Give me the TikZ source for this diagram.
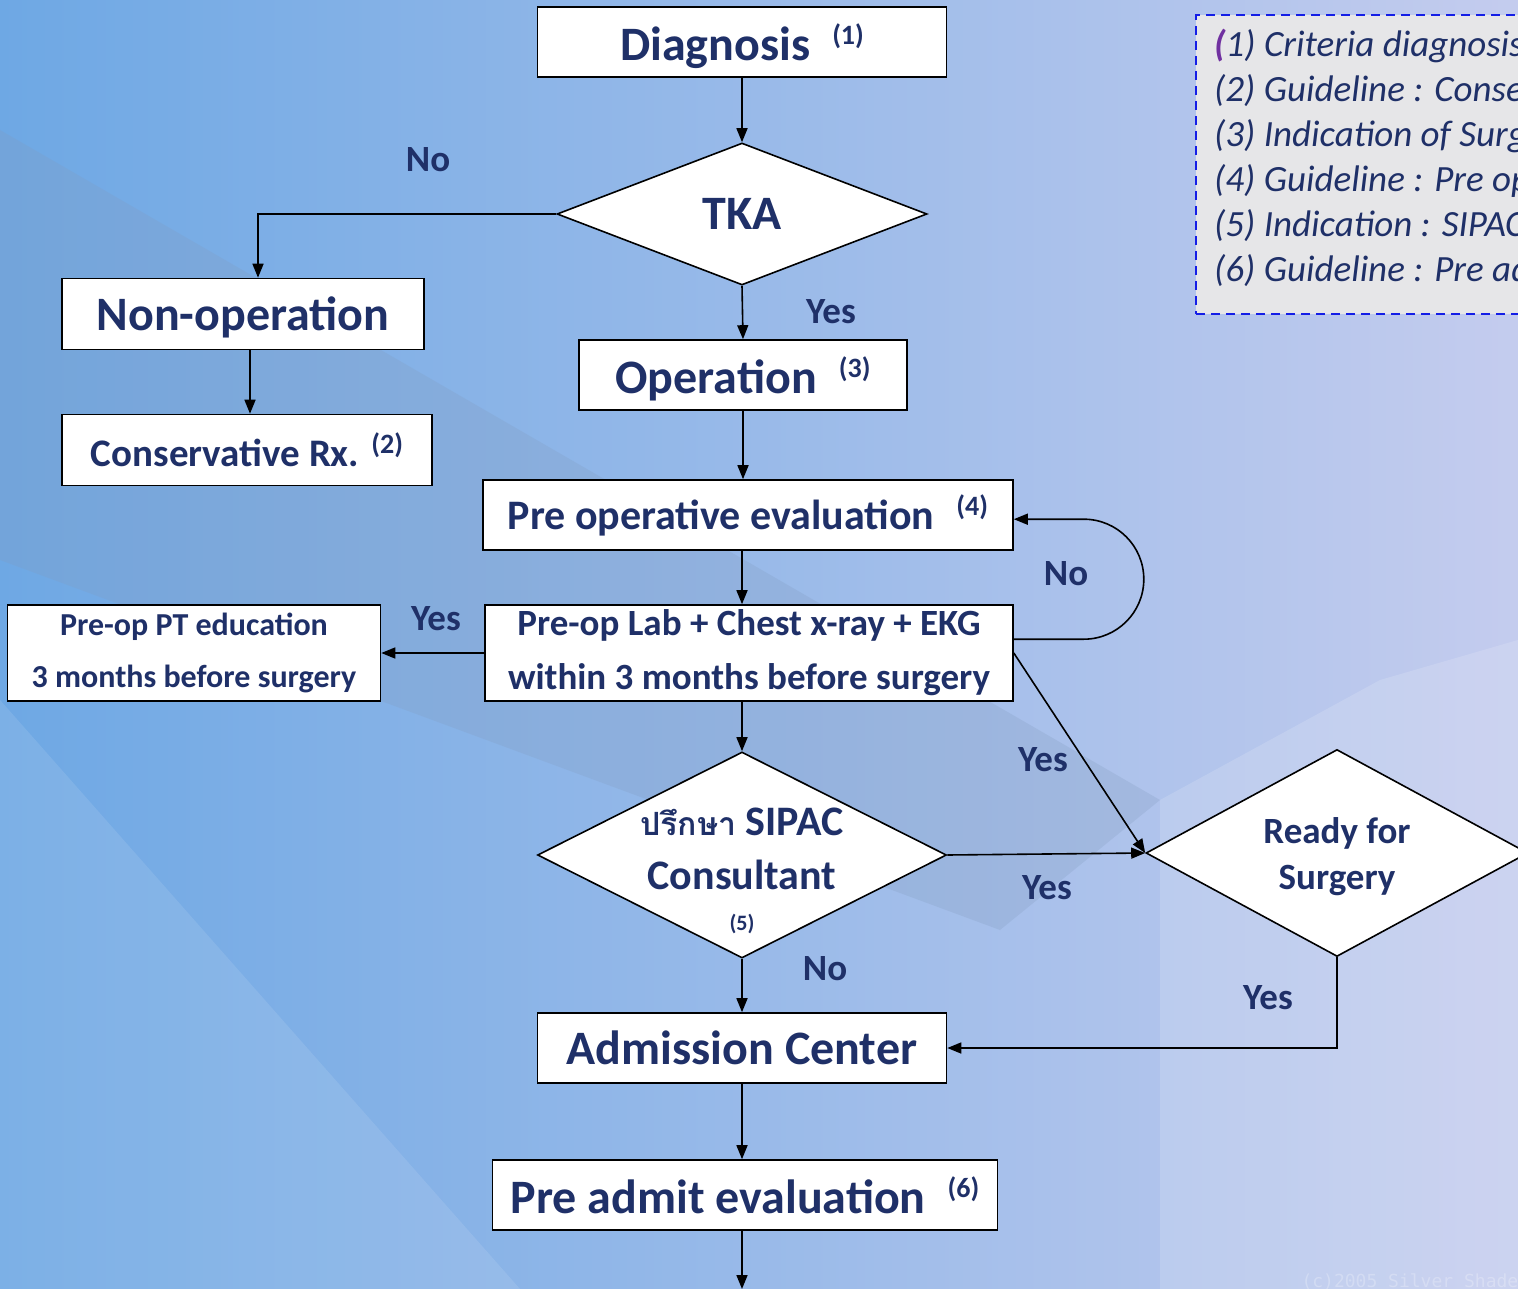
\documentclass[tikz,border=0pt]{standalone}
\usepackage{fontspec}
\setmainfont{Carlito}
\newfontfamily\thaifont[Script=Thai]{Loma}
\newfontfamily\wmfont{DejaVu Sans Mono}
\usetikzlibrary{positioning,shapes.geometric,arrows.meta}

\definecolor{navy}{RGB}{31,48,104}
\definecolor{bgleft}{RGB}{110,168,228}
\definecolor{bgright}{RGB}{196,204,238}
\definecolor{bandgray}{RGB}{130,155,190}
\definecolor{legendfill}{RGB}{230,230,232}
\definecolor{legendline}{RGB}{20,30,230}
\definecolor{parenpurple}{RGB}{112,48,160}

\newcommand{\refmark}[1]{\hspace{22pt}\raisebox{0.33em}{\fontsize{28}{28}\selectfont(#1)}}

\tikzset{
  box/.style={rectangle, draw=black, line width=1.6pt, fill=white, text=navy, inner sep=0pt},
  decision/.style={diamond, draw=black, line width=1.6pt, fill=white, inner sep=0pt},
  dtext/.style={text=navy, align=center, inner sep=0pt},
  flow/.style={draw=black, line width=1.6pt, -{Triangle[length=14pt,width=11pt]}},
  answer/.style={text=navy, font=\fontsize{37}{37}\selectfont\bfseries},
  bigtext/.style={font=\fontsize{48}{52}\selectfont\bfseries, text depth=0pt},
}

\begin{document}
\begin{tikzpicture}[x=1pt,y=-1pt]
  \useasboundingbox (0,0) rectangle (1518,1289);
  % background
  \fill[left color=bgleft, right color=bgright] (0,0) rectangle (1518,1289);
  \fill[bandgray, opacity=0.25] (0,130) -- (1160,800) -- (1000,930) -- (0,560) -- cycle;
  \fill[white, opacity=0.15] (1160,800) -- (1380,680) -- (1518,640) -- (1518,1289) -- (1160,1289) -- cycle;
  \fill[white, opacity=0.10] (0,700) -- (520,1289) -- (0,1289) -- cycle;
  \node[anchor=west, text=white, opacity=0.25, font=\fontsize{18}{18}\wmfont] (wm) at (1298,1282) {(c)2005 Silver Shades};

  % legend
  \node[rectangle, draw=legendline, line width=1.8pt, dashed, dash pattern=on 9pt off 6pt, fill=legendfill,
        minimum width=340pt, minimum height=299pt, anchor=north west] (legend) at (1195,14) {};
  \node[anchor=north west, align=left, text=navy, inner sep=0pt,
        font=\fontsize{37}{45}\selectfont\itshape] (legendtext) at (1214,29)
    {\textcolor{parenpurple}{\bfseries(}1) Criteria diagnosis\\
     (2) Guideline : Conservative\\
     (3) Indication of Surgery\\
     (4) Guideline : Pre op\\
     (5) Indication : SIPAC\\
     (6) Guideline : Pre admit};

  % main column
  \node[box, bigtext, minimum width=409pt, minimum height=70pt] (diag) at (742,42) {Diagnosis\refmark{1}};
  \node[decision, minimum width=370pt, minimum height=142pt,
        label={[dtext, bigtext]center:TKA}] (tka) at (742,214) {};
  \node[box, bigtext, minimum width=362pt, minimum height=71pt] (nonop) at (243,314) {Non-operation};
  \node[box, minimum width=370pt, minimum height=71pt, font=\fontsize{39}{42}\selectfont\bfseries] (consv) at (247,450) {Conservative Rx.\hspace{-10pt}\refmark{2}};
  \node[box, bigtext, minimum width=328pt, minimum height=70pt] (oper) at (743,375) {Operation\refmark{3}};
  \node[box, minimum width=530pt, minimum height=70pt, font=\fontsize{42}{46}\selectfont\bfseries] (preeval) at (748,515) {Pre operative evaluation\refmark{4}};
  \node[box, minimum width=528pt, minimum height=96pt, align=center, font=\fontsize{37}{54}\selectfont\bfseries] (lab) at (749,653) {Pre-op Lab + Chest x-ray + EKG\\within 3 months before surgery};
  \node[box, minimum width=373pt, minimum height=96pt, align=center, font=\fontsize{32}{52}\selectfont\bfseries] (pt) at (194,653) {Pre-op PT education\\3 months before surgery};
  \node[decision, minimum width=409pt, minimum height=206pt,
        label={[dtext, yshift=-16pt, font=\fontsize{42}{54}\selectfont\bfseries]center:{{\thaifont\fontsize{32}{32}\selectfont ปรึกษา} SIPAC\\Consultant\\[-13pt]{\fontsize{22}{22}\selectfont(5)}}}] (sipac) at (742,855) {};
  \node[decision, minimum width=382pt, minimum height=207pt,
        label={[dtext, yshift=-4pt, font=\fontsize{37}{46}\selectfont\bfseries]center:{Ready for\\Surgery}}] (ready) at (1337,853) {};
  \node[box, bigtext, minimum width=409pt, minimum height=70pt] (adm) at (742,1048) {Admission Center};
  \node[box, bigtext, minimum width=505pt, minimum height=70pt] (preadm) at (745,1195) {Pre admit evaluation\refmark{6}};
  \coordinate (exit) at (742,1289);

  % connectors
  \draw[flow] (diag) -- (tka);
  \draw[flow] (tka.west) -| ([xshift=15pt]nonop.north);
  \draw[flow] ([xshift=7pt]nonop.south) -- ([xshift=7pt]nonop.south |- consv.north);
  \draw[flow] (tka.south) -- (oper.north);
  \draw[flow] (oper.south) -- (oper.south |- preeval.north);
  \draw[flow] (preeval.south -| exit) -- (lab.north -| exit);
  \draw[flow, rounded corners=60pt] (lab.north east) ++(0,35) -- ++(130,0) -- ++(0,-120) -- ++(-130,0);
  \draw[flow] (lab.west) -- (pt.east);
  \draw[flow] (lab.south -| exit) -- (sipac.north);
  \draw[flow] (lab.east) -- (ready.west);
  \draw[flow] (sipac.east) -- (ready.west);
  \draw[flow] (sipac.south) -- (adm.north);
  \draw[flow] (ready.south) |- (adm.east);
  \draw[flow] (adm.south) -- (adm.south |- preadm.north);
  \draw[flow] (preadm.south -| exit) -- (exit);

  % answers
  \node[answer] (tkano) at (428,160) {No};
  \node[answer] (tkayes) at (831,312) {Yes};
  \node[answer] (loopno) at (1066,574) {No};
  \node[answer] (ptyes) at (436,619) {Yes};
  \node[answer] (labyes) at (1043,760) {Yes};
  \node[answer] (sipacyes) at (1047,888) {Yes};
  \node[answer] (sipacno) at (825,969) {No};
  \node[answer] (readyyes) at (1268,998) {Yes};
\end{tikzpicture}
\end{document}
